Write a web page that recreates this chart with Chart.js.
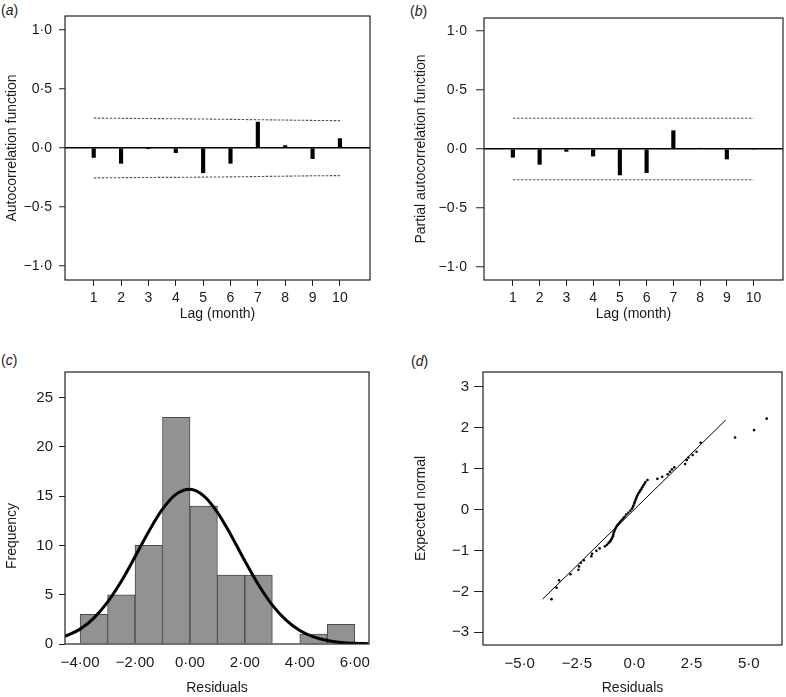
<!DOCTYPE html>
<html>
<head>
<meta charset="utf-8">
<script src="https://cdn.jsdelivr.net/npm/chart.js@4/dist/chart.umd.min.js"></script>
<style>
  html, body { margin: 0; padding: 0; background: #fff; }
  #wrap { position: relative; width: 786px; height: 697px; overflow: hidden; font-family: "Liberation Sans", Arial, sans-serif; }
  canvas { position: absolute; }
  .lbl { position: absolute; font-size: 14px; line-height: 16px; color: #1a1a1a; }
</style>
</head>
<body>
<div id="wrap">
  <div class="lbl" style="left:1px;top:2px">(<i>a</i>)</div>
  <div class="lbl" style="left:410px;top:3px">(<i>b</i>)</div>
  <div class="lbl" style="left:1px;top:352px">(<i>c</i>)</div>
  <div class="lbl" style="left:411px;top:353px">(<i>d</i>)</div>
  <canvas id="cA" width="393" height="340" style="left:0;top:0;width:393px;height:340px"></canvas>
  <canvas id="cB" width="393" height="340" style="left:393px;top:0;width:393px;height:340px"></canvas>
  <canvas id="cC" width="393" height="357" style="left:0;top:340px;width:393px;height:357px"></canvas>
  <canvas id="cD" width="393" height="357" style="left:393px;top:340px;width:393px;height:357px"></canvas>
</div>
<script>
// ---------- data ----------
const lags = [1, 2, 3, 4, 5, 6, 7, 8, 9, 10];
const acfValues = [-0.08, -0.13, -0.005, -0.04, -0.21, -0.13, 0.22, 0.02, -0.09, 0.08];
const acfUpper = [0.254, 0.252, 0.250, 0.248, 0.246, 0.243, 0.240, 0.237, 0.234, 0.232];
const acfLower = [-0.254, -0.252, -0.250, -0.249, -0.247, -0.245, -0.242, -0.239, -0.236, -0.234];
const pacfValues = [-0.07, -0.13, -0.02, -0.06, -0.22, -0.20, 0.155, 0.003, -0.085, 0];
const pacfUpper = [0.26, 0.26, 0.26, 0.26, 0.26, 0.26, 0.26, 0.26, 0.26, 0.26];
const pacfLower = [-0.26, -0.26, -0.26, -0.26, -0.26, -0.26, -0.26, -0.26, -0.26, -0.26];
const corrTicks = [-1, -0.5, 0, 0.5, 1];

const binCenters = [-3.5, -2.5, -1.5, -0.5, 0.5, 1.5, 2.5, 3.5, 4.5, 5.5];
const binCounts = [3, 5, 10, 23, 14, 7, 7, 0, 1, 2];
const curveX = [-4.55, -4, -3.5, -3, -2.5, -2, -1.5, -1, -0.5, 0, 0.5, 1, 1.5, 2, 2.5, 3, 3.5, 4, 4.5, 5, 5.5, 6, 6.5];
const curveY = [0.77, 1.51, 2.63, 4.25, 6.36, 8.85, 11.42, 13.68, 15.21, 15.70, 15.03, 13.36, 11.02, 8.43, 5.99, 3.95, 2.42, 1.37, 0.72, 0.35, 0.16, 0.07, 0.03];
const freqTicks = [0, 5, 10, 15, 20, 25];
const residTicksC = [-4, -2, 0, 2, 4, 6];

const qqResid = [-3.61, -3.39, -3.28, -2.78, -2.43, -2.41, -2.33, -2.20, -1.87, -1.84, -1.65, -1.51, -1.28, -1.19, -1.12,
  -1.07, -1.03, -1.00, -0.96, -0.93, -0.91, -0.90, -0.87, -0.84, -0.81, -0.78, -0.74, -0.70, -0.65, -0.61, -0.56, -0.52, -0.47, -0.42, -0.35,
  -0.26, -0.17, -0.10, -0.06, -0.03, 0.00, 0.03, 0.06, 0.08, 0.11, 0.14, 0.18, 0.23, 0.27, 0.32, 0.36, 0.40, 0.45, 0.49, 0.58,
  1.01, 1.22, 1.46, 1.56, 1.65, 1.75, 2.22, 2.29, 2.37, 2.55, 2.72, 2.90, 4.40, 5.23, 5.78];
const qqExpected = [-2.19, -1.91, -1.73, -1.58, -1.47, -1.39, -1.30, -1.24, -1.14, -1.08, -1.01, -0.95, -0.90, -0.86, -0.82,
  -0.79, -0.76, -0.73, -0.69, -0.65, -0.61, -0.57, -0.53, -0.49, -0.45, -0.42, -0.39, -0.36, -0.33, -0.30, -0.27, -0.25, -0.21, -0.18, -0.12,
  -0.08, -0.03, 0.02, 0.06, 0.10, 0.15, 0.19, 0.23, 0.27, 0.31, 0.35, 0.39, 0.43, 0.47, 0.51, 0.55, 0.59, 0.63, 0.67, 0.72,
  0.75, 0.80, 0.86, 0.92, 0.98, 1.03, 1.11, 1.21, 1.27, 1.33, 1.41, 1.63, 1.76, 1.94, 2.22];
const refLineX = [-4, 4];
const refLineY = [-2.19, 2.19];
const qqXTicks = [-5, -2.5, 0, 2.5, 5];
const qqYTicks = [-3, -2, -1, 0, 1, 2, 3];

// ---------- helpers ----------
Chart.defaults.font.family = '"Liberation Sans", Arial, Helvetica, sans-serif';
Chart.defaults.color = '#1a1a1a';
Chart.defaults.animation = false;

function fmt(v, d) {
  const s = Math.abs(v).toFixed(d).replace('.', '\u00B7');
  return (v < -1e-9 ? '\u2212' : '') + s;
}
function pts(xs, ys) { return xs.map((x, i) => ({ x: x, y: ys[i] })); }
function setTicks(arr) { return function (scale) { scale.ticks = arr.map(v => ({ value: v })); }; }

const framePlugin = {
  id: 'frame',
  afterDraw(chart) {
    const { ctx, chartArea: a } = chart;
    ctx.save();
    ctx.strokeStyle = '#222';
    ctx.lineWidth = 1.2;
    ctx.strokeRect(a.left, a.top, a.right - a.left, a.bottom - a.top);
    ctx.restore();
  }
};

function corrChart(id, values, upper, lower, yTitle, opts) {
  return new Chart(document.getElementById(id), {
    type: 'bar',
    data: {
      datasets: [
        { type: 'bar', data: pts(lags, values), backgroundColor: '#000', borderWidth: 0, barThickness: 3.5, order: 2 },
        { type: 'line', data: pts(lags, upper), borderColor: '#555', borderWidth: 1.1, borderDash: [2.5, 1.5], pointRadius: 0, fill: false, order: 1 },
        { type: 'line', data: pts(lags, lower), borderColor: '#555', borderWidth: 1.1, borderDash: [2.5, 1.5], pointRadius: 0, fill: false, order: 1 }
      ]
    },
    options: {
      responsive: false,
      maintainAspectRatio: false,
      layout: { padding: opts.padding },
      plugins: { legend: { display: false }, tooltip: { enabled: false } },
      scales: {
        x: {
          type: 'linear', min: opts.xmin, max: 11.1, offset: false,
          afterBuildTicks: setTicks(lags),
          afterFit(s) { s.height = 60; },
          border: { display: false },
          grid: { offset: false, drawOnChartArea: false, drawTicks: true, tickLength: 6, tickColor: '#222', tickWidth: 1 },
          ticks: { padding: 4, font: { size: 14 }, maxRotation: 0, autoSkip: false, callback: v => String(v) },
          title: { display: true, text: 'Lag (month)', font: { size: 14 }, padding: { top: 0, bottom: 17.5 } }
        },
        y: {
          type: 'linear', min: -opts.yext, max: opts.yext,
          afterBuildTicks: setTicks(corrTicks),
          afterFit(s) { s.width = opts.yw; },
          border: { display: false },
          grid: {
            drawOnChartArea: true, drawTicks: true, tickLength: opts.tl,
            color: c => (c.tick && c.tick.value === 0) ? '#000' : 'rgba(0,0,0,0)',
            lineWidth: 1.5, tickColor: '#222', tickWidth: 1
          },
          ticks: { padding: opts.tp, font: { size: 14 }, autoSkip: false, callback: v => fmt(v, 1) },
          title: { display: true, text: yTitle, font: { size: 14 }, padding: { top: 4, bottom: 4 } }
        }
      }
    },
    plugins: [framePlugin]
  });
}

corrChart('cA', acfValues, acfUpper, acfLower, 'Autocorrelation function',
  { padding: { left: 0, right: 23, top: 16, bottom: 0 }, yw: 65, tl: 6, tp: 7, yext: 1.12, xmin: -0.05 });
corrChart('cB', pacfValues, pacfUpper, pacfLower, 'Partial autocorrelation function',
  { padding: { left: 16, right: 3, top: 18, bottom: 0 }, yw: 75, tl: 8, tp: 9, yext: 1.11, xmin: -0.08 });

// ---------- (c) histogram ----------
new Chart(document.getElementById('cC'), {
  type: 'bar',
  data: {
    datasets: [
      { type: 'line', data: pts(curveX, curveY), borderColor: '#000', borderWidth: 3, pointRadius: 0, cubicInterpolationMode: 'monotone', fill: false, order: 1 },
      { type: 'bar', data: pts(binCenters, binCounts), backgroundColor: '#929292', borderColor: '#4a4a4a', borderWidth: 1, barPercentage: 1, categoryPercentage: 1, order: 2 }
    ]
  },
  options: {
    responsive: false,
    maintainAspectRatio: false,
    layout: { padding: { left: 0, right: 24, top: 32, bottom: 0 } },
    plugins: { legend: { display: false }, tooltip: { enabled: false } },
    scales: {
      x: {
        type: 'linear', min: -4.55, max: 6.52, offset: false,
        afterBuildTicks: setTicks(residTicksC),
        afterFit(s) { s.height = 53; },
        border: { display: false },
        grid: { offset: false, drawOnChartArea: false, drawTicks: false },
        ticks: { padding: 10, font: { size: 15 }, maxRotation: 0, autoSkip: false, callback: v => fmt(v, 2) },
        title: { display: true, text: 'Residuals', font: { size: 14 }, padding: { top: 0, bottom: 0.6 } }
      },
      y: {
        type: 'linear', min: 0, max: 27.6,
        afterBuildTicks: setTicks(freqTicks),
        afterFit(s) { s.width = 65; },
        border: { display: false },
        grid: { drawOnChartArea: false, drawTicks: true, tickLength: 6, tickColor: '#222', tickWidth: 1 },
        ticks: { padding: 6, font: { size: 15 }, autoSkip: false, callback: v => String(v) },
        title: { display: true, text: 'Frequency\u2003\u2003\u2003\u2003', font: { size: 14 }, padding: { top: 4, bottom: 4 } }
      }
    }
  },
  plugins: [framePlugin]
});

// ---------- (d) Q-Q plot ----------
new Chart(document.getElementById('cD'), {
  type: 'scatter',
  data: {
    datasets: [
      { type: 'line', data: pts(refLineX, refLineY), borderColor: '#000', borderWidth: 1, pointRadius: 0, fill: false, order: 2 },
      { type: 'scatter', data: pts(qqResid, qqExpected), backgroundColor: '#000', borderWidth: 0, pointRadius: 1.3, order: 1 }
    ]
  },
  options: {
    responsive: false,
    maintainAspectRatio: false,
    layout: { padding: { left: 16, right: 3, top: 32, bottom: 0 } },
    plugins: { legend: { display: false }, tooltip: { enabled: false } },
    scales: {
      x: {
        type: 'linear', min: -6.6, max: 6.45,
        afterBuildTicks: setTicks(qqXTicks),
        afterFit(s) { s.height = 52; },
        border: { display: false },
        grid: { drawOnChartArea: false, drawTicks: false },
        ticks: { padding: 10, font: { size: 15 }, maxRotation: 0, autoSkip: false, callback: v => fmt(v, 1) },
        title: { display: true, text: 'Residuals', font: { size: 14 }, padding: { top: 0, bottom: 0.6 } }
      },
      y: {
        type: 'linear', min: -3.31, max: 3.36,
        afterBuildTicks: setTicks(qqYTicks),
        afterFit(s) { s.width = 74; },
        border: { display: false },
        grid: { drawOnChartArea: false, drawTicks: true, tickLength: 9, tickColor: '#222', tickWidth: 1 },
        ticks: { padding: 5, font: { size: 15 }, autoSkip: false, callback: v => (v < 0 ? '\u2212' : '') + Math.abs(v) },
        title: { display: true, text: 'Expected normal', font: { size: 14 }, padding: { top: 4, bottom: 4 } }
      }
    }
  },
  plugins: [framePlugin]
});
</script>
</body>
</html>
